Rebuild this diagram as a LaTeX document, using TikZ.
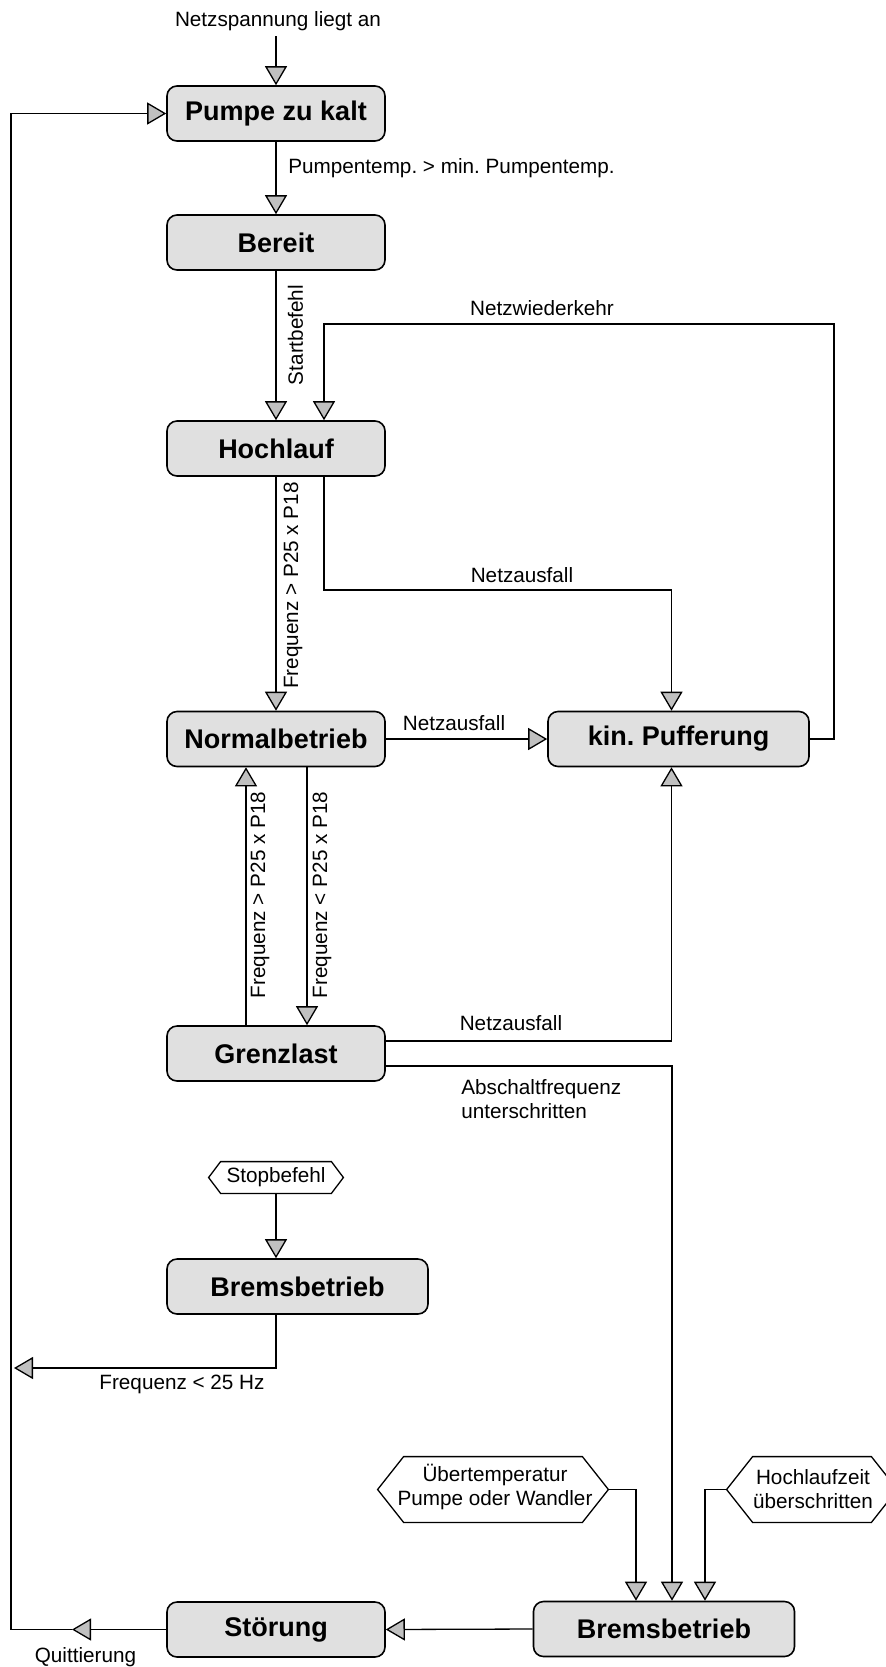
\documentclass[tikz,border=0pt]{standalone}
\usepackage{fontspec}
\setmainfont{Liberation Sans}
\usetikzlibrary{arrows.meta,calc}
\definecolor{boxgray}{RGB}{224,224,224}
\definecolor{arrgray}{RGB}{192,192,192}
\frenchspacing
\begin{document}
\begin{tikzpicture}[x=0.5pt,y=-0.5pt,
  state/.style={draw, line width=0.8pt, fill=boxgray, rounded corners=5pt,
    minimum width=109pt, minimum height=27.5pt, inner sep=0pt,
    font=\fontsize{13.5}{16}\selectfont\bfseries},
  wide/.style={minimum width=130.5pt},
  lbl/.style={font=\fontsize{10.35}{12}\selectfont, inner sep=0pt, align=left},
  hexbox/.style={inner sep=0pt, align=center, font=\fontsize{10.35}{12}\selectfont},
  hexline/.style={draw, line width=0.65pt, fill=white},
  conn/.style={line width=0.65pt},
  arr/.style={conn, -{Triangle[length=9.5pt,width=11pt,fill=arrgray]}},
]
\useasboundingbox (0,0) rectangle (886,1667);

% states
\node[state] (pumpe) at (276,113.5) {Pumpe zu kalt};
\node[state] (bereit) at (276,242.5) {Bereit};
\node[state] (hochlauf) at (276,448.5) {Hochlauf};
\node[state] (normal) at (276,739) {Normalbetrieb};
\node[state,wide] (kin) at (678.5,739) {kin. Pufferung};
\node[state] (grenz) at (276,1053.5) {Grenzlast};
\node[state,wide] (brems1) at (297.5,1286.5) {Bremsbetrieb};
\node[state,wide] (brems2) at (664,1629) {Bremsbetrieb};
\node[state] (stoer) at (276,1629.5) {Störung};

% hexagon events
\node[hexbox, minimum width=67pt, minimum height=15.5pt] (stop) at (276,1177.5) {};
\draw[hexline] (stop.west) -- ($(stop.north west)+(12,0)$) -- ($(stop.north east)+(-12,0)$) -- (stop.east)
  -- ($(stop.south east)+(-12,0)$) -- ($(stop.south west)+(12,0)$) -- cycle;
\node[hexbox] (stoptext) at (stop) {Stopbefehl};

\node[hexbox, minimum width=115pt, minimum height=32.5pt] (ueb) at (493,1489.5) {};
\draw[hexline] (ueb.west) -- ($(ueb.north west)+(26,0)$) -- ($(ueb.north east)+(-26,0)$) -- (ueb.east)
  -- ($(ueb.south east)+(-26,0)$) -- ($(ueb.south west)+(26,0)$) -- cycle;
\node[hexbox] (uebtext) at (495,1487) {Übertemperatur\\Pumpe oder Wandler};

\node[hexbox, minimum width=85pt, minimum height=32.5pt] (hlz) at (812,1489.5) {};
\draw[hexline] (hlz.west) -- ($(hlz.north west)+(26,0)$) -- ($(hlz.north east)+(-26,0)$) -- (hlz.east)
  -- ($(hlz.south east)+(-26,0)$) -- ($(hlz.south west)+(26,0)$) -- cycle;
\node[hexbox] (hlztext) at (813,1489) {Hochlaufzeit\\überschritten};

% helper coordinates
\coordinate (start) at (276,36);
\coordinate (hlin2) at ($(hochlauf.north)+(48,0)$);
\coordinate (hlout2) at ($(hochlauf.south)+(48,0)$);
\coordinate (nw1) at (834,324);
\coordinate (na1) at (324,590);
\coordinate (kintop) at ($(kin.north)+(-7,0)$);
\coordinate (kinbot) at ($(kin.south)+(-7,0)$);
\coordinate (gup1) at ($(grenz.north)+(-30,0)$);
\coordinate (gup2) at ($(normal.south)+(-30,0)$);
\coordinate (gdn1) at ($(normal.south)+(31,0)$);
\coordinate (gdn2) at ($(grenz.north)+(31,0)$);
\coordinate (gk) at ($(grenz.east)+(0,-12.5)$);
\coordinate (gb) at ($(grenz.east)+(0,12.5)$);
\coordinate (b2a) at ($(brems2.north)+(-28,0)$);
\coordinate (b2b) at ($(brems2.north)+(8,0)$);
\coordinate (b2c) at ($(brems2.north)+(41,0)$);
\coordinate (fz) at (14,1368);
\coordinate (q1) at (72,1629.5);
\coordinate (lc) at (11,1629.5);

% connectors
\draw[arr] (start) -- (pumpe.north);
\draw[arr] (pumpe.south) -- (bereit.north);
\draw[arr] (bereit.south) -- (hochlauf.north);
\draw[arr] (kin.east) -| (nw1) -| (hlin2);
\draw[arr] (hochlauf.south) -- (normal.north);
\draw[arr] (hlout2) -- (na1) -| (kintop);
\draw[arr] (normal.east) -- (kin.west);
\draw[arr] (gup1) -- (gup2);
\draw[arr] (gdn1) -- (gdn2);
\draw[arr] (gk) -| (kinbot);
\draw[arr] (gb) -| (b2b);
\draw[arr] (stop.south) -- (stop.south |- brems1.north);
\draw[arr] (brems1.south -| stop.south) |- (fz);
\draw[arr] (ueb.east) -| (b2a);
\draw[arr] (hlz.west) -| (b2c);
\draw[arr] (brems2.west) -- (stoer.east);
\draw[arr] (stoer.west) -- (q1);
\draw[arr] (q1) -- (lc) |- (pumpe.west);

% labels
\node[lbl] (t1) at (278,21) {Netzspannung liegt an};
\node[lbl, anchor=west] (t2) at (288,168) {Pumpentemp. > min. Pumpentemp.};
\node[lbl, rotate=90] (t3) at (295.5,335) {Startbefehl};
\node[lbl] (t4) at (542,308) {Netzwiederkehr};
\node[lbl, rotate=90] (t5) at (293,585.5) {Frequenz > P25 x P18};
\node[lbl] (t6) at (522,575) {Netzausfall};
\node[lbl] (t7) at (454,723) {Netzausfall};
\node[lbl, rotate=90] (t8) at (260,895) {Frequenz > P25 x P18};
\node[lbl, rotate=90] (t9) at (322,895) {Frequenz < P25 x P18};
\node[lbl] (t10) at (511,1023) {Netzausfall};
\node[lbl, anchor=west] (t11) at (461,1099) {Abschaltfrequenz\\unterschritten};
\node[lbl] (t12) at (182,1384) {Frequenz < 25 Hz};
\node[lbl] (t13) at (85.5,1657) {Quittierung};
\end{tikzpicture}
\end{document}
